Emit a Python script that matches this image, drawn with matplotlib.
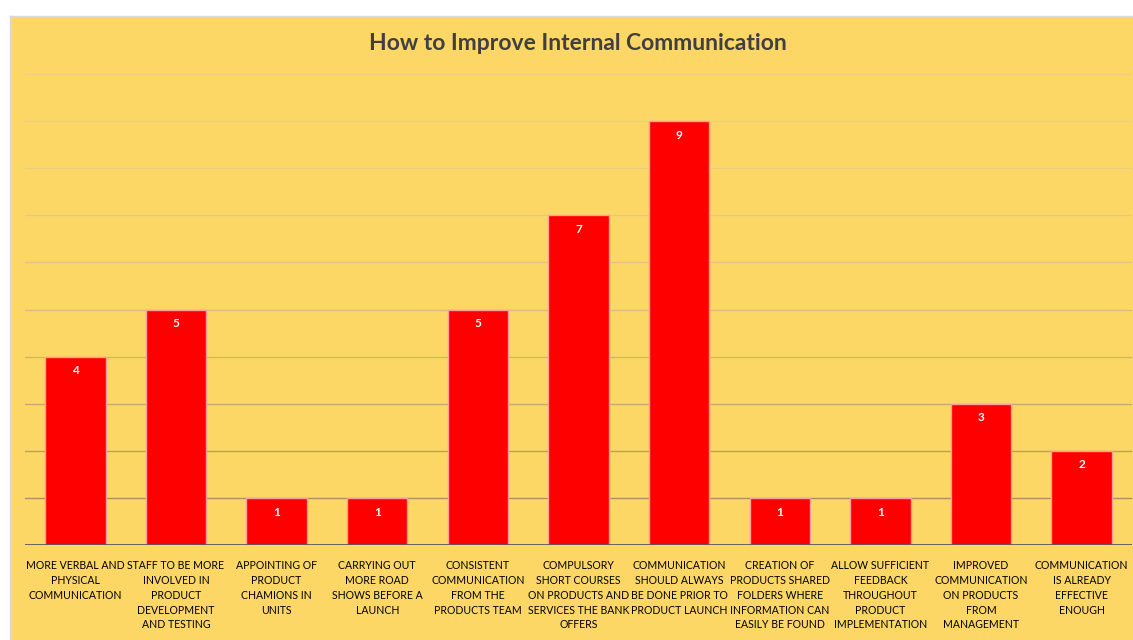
import numpy as np
import matplotlib.pyplot as plt
import matplotlib.colors as mcolors

categories = [
    "MORE VERBAL AND\nPHYSICAL\nCOMMUNICATION",
    "STAFF TO BE MORE\nINVOLVED IN\nPRODUCT\nDEVELOPMENT\nAND TESTING",
    "APPOINTING OF\nPRODUCT\nCHAMIONS IN\nUNITS",
    "CARRYING OUT\nMORE ROAD\nSHOWS BEFORE A\nLAUNCH",
    "CONSISTENT\nCOMMUNICATION\nFROM THE\nPRODUCTS TEAM",
    "COMPULSORY\nSHORT COURSES\nON PRODUCTS AND\nSERVICES THE BANK\nOFFERS",
    "COMMUNICATION\nSHOULD ALWAYS\nBE DONE PRIOR TO\nPRODUCT LAUNCH",
    "CREATION OF\nPRODUCTS SHARED\nFOLDERS WHERE\nINFORMATION CAN\nEASILY BE FOUND",
    "ALLOW SUFFICIENT\nFEEDBACK\nTHROUGHOUT\nPRODUCT\nIMPLEMENTATION",
    "IMPROVED\nCOMMUNICATION\nON PRODUCTS\nFROM\nMANAGEMENT",
    "COMMUNICATION\nIS ALREADY\nEFFECTIVE\nENOUGH",
]
values = [4, 5, 1, 1, 5, 7, 9, 1, 1, 3, 2]
title = "How to Improve Internal Communication"

bg = "#FDD766"
plt.rcParams['font.family'] = ['Lato', 'DejaVu Sans']

fig = plt.figure(figsize=(11.33, 6.4), dpi=100)
fig.patch.set_facecolor("white")
# yellow chart panel
panel = fig.add_axes([10 / 1133, 0, 1 - 10 / 1133, 1 - 16 / 640])
panel.set_facecolor(bg)
panel.set_xticks([])
panel.set_yticks([])
for s in panel.spines.values():
    s.set_color("#D9D9D9")
    s.set_linewidth(1)
panel.spines["right"].set_visible(False)
panel.spines["bottom"].set_visible(False)

ax = fig.add_axes([25 / 1133, 1 - 545 / 640, 1107 / 1133, (545 - 74) / 640])
ax.set_facecolor("none")
x = np.arange(len(values))
ax.set_xlim(-0.5, len(values) - 0.5)
ax.set_ylim(0, 10)

# gridlines darker towards the bottom
light = np.array(mcolors.to_rgb("#EFD083"))
dark = np.array(mcolors.to_rgb("#A8935A"))
for lvl in range(1, 11):
    t = (10 - lvl) / 9
    c = light + (dark - light) * t ** 2
    ax.axhline(lvl, color=c, linewidth=1, zorder=1)

bars = ax.bar(x, values, width=0.6, color="#FF0000", edgecolor="#FF9C9C",
              linewidth=1, zorder=2)
for xi, v in zip(x, values):
    ax.text(xi, v - 0.3, str(v), ha="center", va="center", color="white",
            fontsize=8.5, fontweight="bold", zorder=3)

ax.axhline(0, color="#595959", linewidth=2, zorder=3)

ax.set_yticks([])
ax.set_xticks(x)
ax.set_xticklabels(categories, fontsize=7.6, color="#000000", linespacing=1.42,
                   va="top")
ax.tick_params(axis="x", length=0, pad=11)
for s in ax.spines.values():
    s.set_visible(False)

fig.text(578 / 1133, 1 - 43 / 640, title, ha="center", va="center",
         fontsize=16.5, fontweight="bold", color="#404040")

fig.savefig("out.png", dpi=100, facecolor=fig.get_facecolor())
